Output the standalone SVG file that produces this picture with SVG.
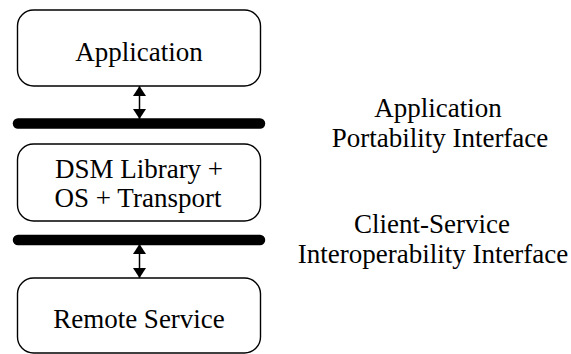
<svg xmlns="http://www.w3.org/2000/svg" width="571" height="354" viewBox="0 0 571 354">
<style>
.box{fill:#fff;stroke:#000;stroke-width:1.4}
.bar{stroke:#000;stroke-width:10.5;stroke-linecap:round}
.lbl{font-family:"Times New Roman","Liberation Serif",Times,"Nimbus Roman","DejaVu Serif",serif;font-size:27px;fill:#000;text-anchor:middle}
.conn{stroke:#000;stroke-width:1.5;fill:none}
</style>
<defs>
<marker id="ah" markerWidth="10" markerHeight="13" refX="10" refY="6.5" orient="auto-start-reverse" markerUnits="userSpaceOnUse" viewBox="0 0 10 13">
<path d="M0,0 L10,6.5 L0,13 Z" fill="#000"/>
</marker>
</defs>
<rect width="571" height="354" fill="#fff"/>
<g id="app">
<rect class="box" x="17.5" y="10" width="243" height="76" rx="16"/>
<text class="lbl" x="139" y="61">Application</text>
</g>
<g id="dsm">
<rect class="box" x="17.5" y="144" width="243" height="77" rx="16"/>
<text class="lbl" x="139" y="178">DSM Library +</text>
<text class="lbl" x="138" y="207">OS + Transport</text>
</g>
<g id="remote">
<rect class="box" x="17.5" y="278" width="243" height="75" rx="16"/>
<text class="lbl" x="139" y="328">Remote Service</text>
</g>
<g id="api">
<line class="bar" x1="18" y1="123.5" x2="260" y2="123.5"/>
</g>
<g id="csi">
<line class="bar" x1="18" y1="240" x2="260" y2="240"/>
</g>
<g id="api-label">
<text class="lbl" x="438" y="117">Application</text>
<text class="lbl" x="440" y="147">Portability Interface</text>
</g>
<g id="csi-label">
<text class="lbl" x="432" y="233">Client-Service</text>
<text class="lbl" x="433" y="263">Interoperability Interface</text>
</g>
<g id="connectors">
<line class="conn" x1="139.5" y1="86" x2="139.5" y2="119" marker-start="url(#ah)" marker-end="url(#ah)"/>
<line class="conn" x1="139.5" y1="244" x2="139.5" y2="278" marker-start="url(#ah)" marker-end="url(#ah)"/>
</g>
</svg>
